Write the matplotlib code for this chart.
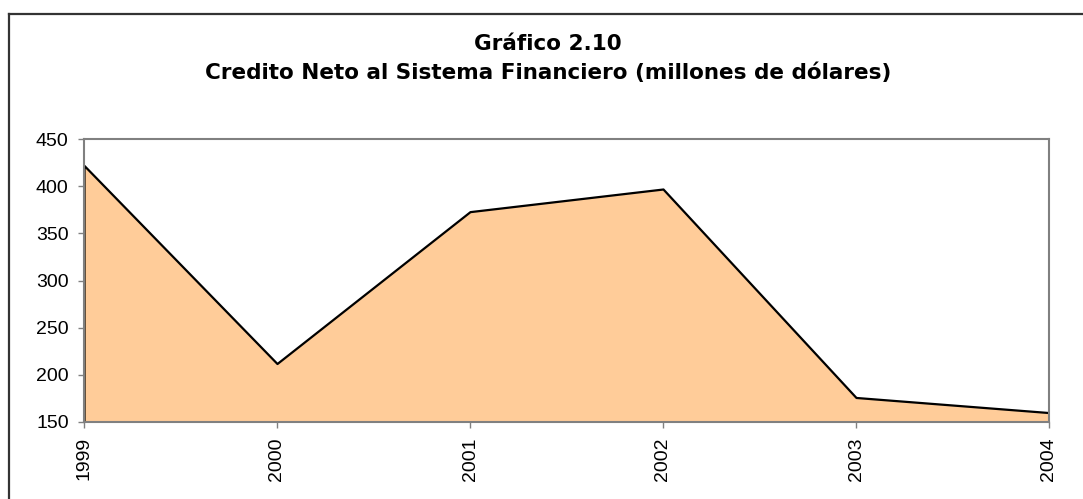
import numpy as np
import matplotlib
matplotlib.use('Agg')
import matplotlib.pyplot as plt
from matplotlib.lines import Line2D

plt.rcParams['font.family'] = 'Liberation Sans'

years = ['1999', '2000', '2001', '2002', '2003', '2004']
credito = [422, 212, 373, 397, 176, 160]
yticks = [150, 200, 250, 300, 350, 400, 450]

fig = plt.figure(figsize=(10.83, 4.99), dpi=100)
ax = fig.add_axes([84/1083, 1-422/499, (1049-84)/1083, (422-139)/499])

x = np.arange(len(years))
ax.fill_between(x, credito, 150, facecolor='#FFCC99', edgecolor='black',
                linewidth=1.6, zorder=2)
ax.set_xlim(0, len(years)-1)
ax.set_ylim(150, 450)
ax.set_yticks(yticks)
ax.set_xticks(x)
ax.set_xticklabels(years, rotation=90)
ax.tick_params(axis='both', labelsize=14, color='#808080', length=4.5,
               width=1, direction='out', pad=6.5, labelcolor='black')
for s in ax.spines.values():
    s.set_color('#808080')
    s.set_linewidth(1.5)

fig.text(0.506, 1-50/499, 'Gráfico 2.10', ha='center', va='baseline',
         fontsize=15.5, fontweight='bold', family='DejaVu Sans')
fig.text(0.506, 1-78.5/499, 'Credito Neto al Sistema Financiero (millones de dólares)',
         ha='center', va='baseline', fontsize=15.5, fontweight='bold', family='DejaVu Sans')

# outer frame (top and left only visible)
fig.add_artist(Line2D([9/1083, 1], [1-14/499, 1-14/499], transform=fig.transFigure,
                      color='#333333', lw=1.6))
fig.add_artist(Line2D([9/1083, 9/1083], [0, 1-14/499], transform=fig.transFigure,
                      color='#333333', lw=1.6))

fig.savefig('out.png', dpi=100)
